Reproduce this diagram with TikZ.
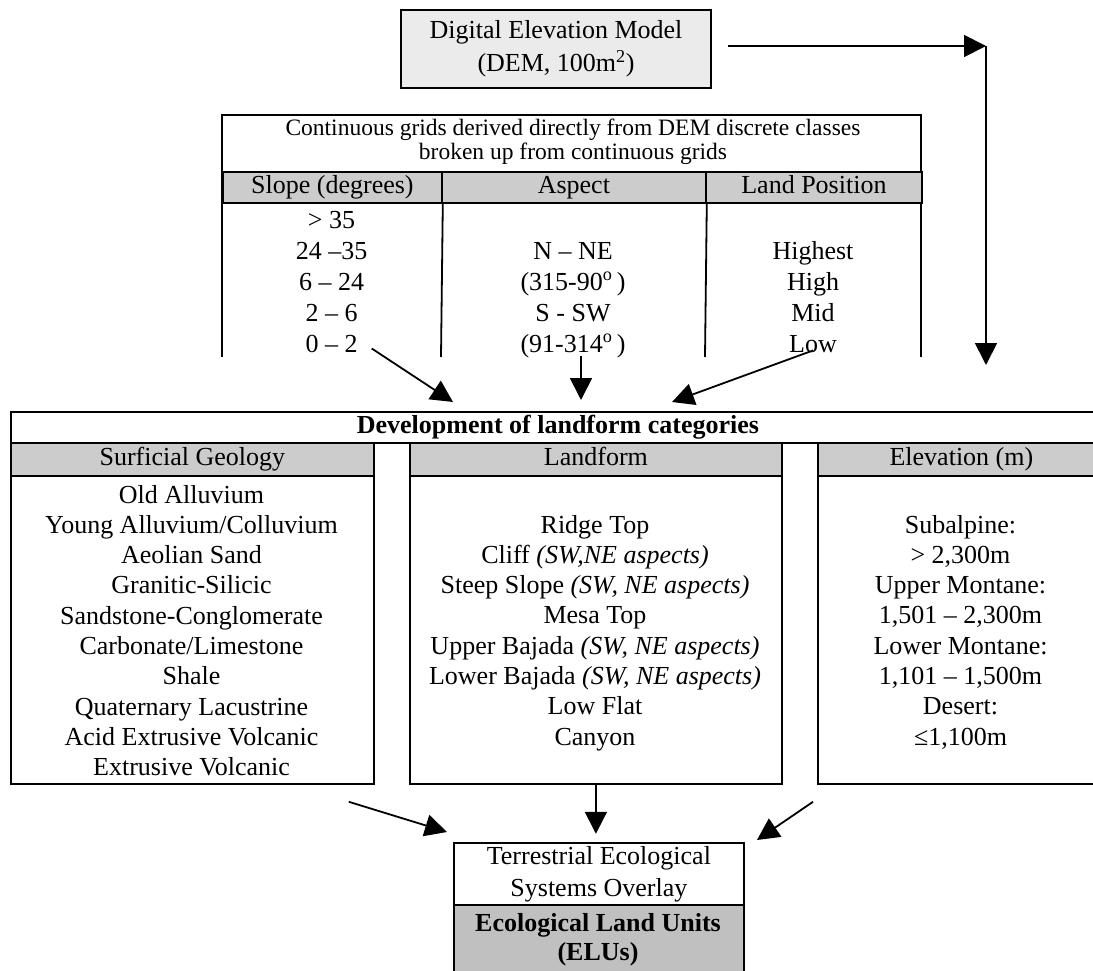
\documentclass[tikz,border=0pt]{standalone}
\usepackage{fontspec}
\setmainfont{Liberation Serif}
\usetikzlibrary{arrows.meta, positioning}
\definecolor{cHead}{RGB}{204,204,204}
\definecolor{cUnit}{RGB}{192,192,192}
\definecolor{cDem}{RGB}{235,235,235}
\tikzset{
	rule/.style     ={line width=1.8pt},
	flowarrow/.style={-{Triangle[length=22pt, width=22pt]}, line width=1.8pt},
	cell/.style     ={font=\fontsize{26}{30}\selectfont, inner sep=0pt, anchor=base},
	colbox/.style   ={rectangle, draw=black, line width=1.8pt, anchor=north west, inner sep=0pt},
	headcell/.style ={colbox, fill=cHead, minimum height=33pt, text height=17pt, text depth=5pt, font=\fontsize{26}{30}\selectfont},
}
\begin{document}
\begin{tikzpicture}[x=1pt, y=-1pt]
	\clip (0,0) rectangle (1093,971);
	% source model
	\node[rectangle, draw=black, line width=2.6pt, fill=cDem, minimum width=310pt, minimum height=78pt, align=center, font=\fontsize{26}{33}\selectfont] (dem) at (556,49) {Digital Elevation Model\\(DEM, 100m\textsuperscript{2})};
	\coordinate (demturn) at (986,46);
	\coordinate (demdown) at (986,365);
	\draw[flowarrow] (dem.east) ++(16,-3) -- (demturn);
	\draw[flowarrow] (demturn) -- (demdown);
	% grid table
	\draw[rule] (222,357) -- (222,115) -- (921,115) -- (921,357);
	\node[font=\fontsize{23.5}{24}\selectfont, align=center, inner sep=0pt] (gridnote) at (573,142) {Continuous grids derived directly from DEM discrete classes\\broken up from continuous grids};
	\node[headcell, minimum width=219pt, minimum height=31pt] (slopehd) at (222,171) {Slope (degrees)};
	\node[headcell, minimum width=264pt, minimum height=31pt] (aspecthd) at (441,171) {Aspect};
	\node[headcell, minimum width=216pt, minimum height=31pt] (posithd) at (705,171) {Land Position};
	\draw[rule] (slopehd.south east) -- (441,357);
	\draw[rule] (aspecthd.south east) -- (705,357);
	\foreach \t [count=\i] in {> 35, 24 –35, 6 – 24, 2 – 6, 0 – 2}
		\node[cell] (slope\i) at (331.5, {228+31*(\i-1)}) {\t};
	\foreach \t [count=\i from 2] in {N – NE, (315-90\textsuperscript{o}\,), S - SW, (91-314\textsuperscript{o}\,)}
		\node[cell] (aspect\i) at (573, {228+31*(\i-1)}) {\t};
	\foreach \t [count=\i from 2] in {Highest, High, Mid, Low}
		\node[cell] (posit\i) at (813, {228+31*(\i-1)}) {\t};
	\coordinate (devinL) at (453,402);
	\coordinate (devinM) at (581,400);
	\coordinate (devinR) at (672,402);
	\draw[flowarrow] (slope5.east) ++(14,5) -- (devinL);
	\draw[flowarrow] (aspect5.south) ++(8,-2) -- (devinM);
	\draw[flowarrow] (posit5.south) ++(0,-2) -- (devinR);
	% landform categories
	\node[colbox, minimum width=1094pt, minimum height=31pt, font=\fontsize{26}{30}\selectfont\bfseries] (devtitle) at (10,411) {Development of landform categories};
	\node[colbox, minimum width=363pt, minimum height=341pt] (geo) at (10,442) {};
	\node[headcell, minimum width=363pt] (geohd) at (10,442) {Surficial Geology};
	\node[colbox, minimum width=372pt, minimum height=341pt] (land) at (409,442) {};
	\node[headcell, minimum width=372pt] (landhd) at (409,442) {Landform};
	\node[colbox, minimum width=287pt, minimum height=341pt] (elev) at (817,442) {};
	\node[headcell, minimum width=287pt] (elevhd) at (817,442) {Elevation (m)};
	\foreach \t [count=\i] in {Old Alluvium, Young Alluvium/Colluvium, Aeolian Sand, Granitic-Silicic, Sandstone-Conglomerate, Carbonate/Limestone, Shale, Quaternary Lacustrine, Acid Extrusive Volcanic, Extrusive Volcanic}
		\node[cell] (geo\i) at (191.5, {503+30.3*(\i-1)}) {\t};
	\foreach \t [count=\i] in {Ridge Top, {Cliff \textit{(SW,NE aspects)}}, {Steep Slope \textit{(SW, NE aspects)}}, Mesa Top, {Upper Bajada \textit{(SW, NE aspects)}}, {Lower Bajada \textit{(SW, NE aspects)}}, Low Flat, Canyon}
		\node[cell] (land\i) at (595, {533+30.3*(\i-1)}) {\t};
	\foreach \t [count=\i] in {Subalpine:, {> 2,300m}, Upper Montane:, {1,501 – 2,300m}, Lower Montane:, {1,101 – 1,500m}, Desert:, {≤1,100m}}
		\node[cell] (elev\i) at (960.5, {533+30.3*(\i-1)}) {\t};
	% ecological land units
	\node[colbox, minimum width=290pt, minimum height=62pt, align=center, font=\fontsize{26}{32}\selectfont] (eco) at (453,842) {Terrestrial Ecological\\Systems Overlay};
	\node[colbox, fill=cUnit, minimum width=290pt, minimum height=80pt] (elu) at (453,904) {};
	\node[align=center, inner sep=0pt, font=\fontsize{26}{29}\selectfont\bfseries] (elulbl) at (598,940) {Ecological Land Units\\(ELUs)};
	\coordinate (eluinL) at (447,832);
	\coordinate (eluinR) at (757,840);
	\draw[flowarrow] (geo.south east) ++(-26,17) -- (eluinL);
	\draw[flowarrow] (land.south) -- ++(0,49);
	\draw[flowarrow] (elev.south west) ++(-4,17) -- (eluinR);
\end{tikzpicture}
\end{document}
